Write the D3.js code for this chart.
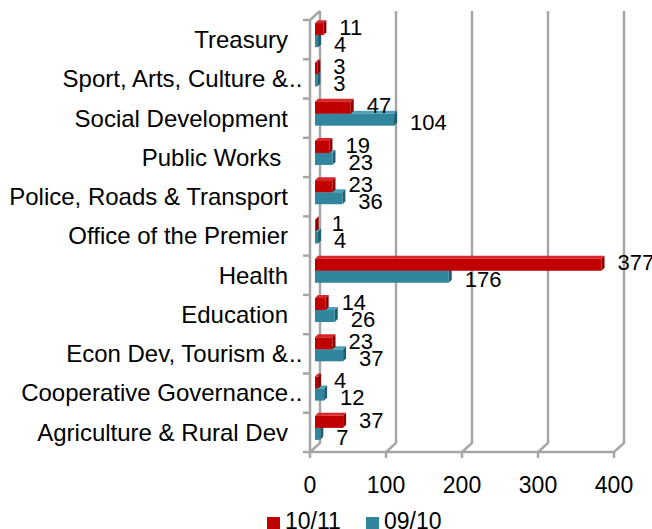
<!DOCTYPE html>
<html>
<head>
<meta charset="utf-8">
<script src="https://cdn.jsdelivr.net/npm/d3@7"></script>
<style>
  body { margin: 0; background: #fff; }
  svg text { font-family: "Liberation Sans", Arial, sans-serif; fill: #000; }
</style>
</head>
<body>
<div class="chart"></div>
<script>
var categories = ["Treasury", "Sport, Arts, Culture &..", "Social Development", "Public Works ",
  "Police, Roads & Transport", "Office of the Premier", "Health", "Education",
  "Econ Dev, Tourism &..", "Cooperative Governance..", "Agriculture & Rural Dev"];
var series = ["10/11", "09/10"];
var values1011 = [11, 3, 47, 19, 23, 1, 377, 14, 23, 4, 37];
var values0910 = [4, 3, 104, 23, 36, 4, 176, 26, 37, 12, 7];
var xTicks = [0, 100, 200, 300, 400];

var width = 652, height = 529;
var depth = {dx: 10, dy: -9};   // back wall offset
var colors = {
  "10/11": {front: "#c00000", top: "#d8262a", side: "#8c0000"},
  "09/10": {front: "#31859c", top: "#4da2b9", side: "#1f5e6f"}
};

var svg = d3.select(".chart").append("svg")
  .attr("width", width)
  .attr("height", height);

var x = d3.scaleLinear().domain([0, 400]).range([310, 614]);
var y = d3.scaleBand().domain(categories).range([20, 452]);
var sub = d3.scaleBand().domain(series).range([-12, 12]);

// grid: back wall lines + floor diagonals
var grid = svg.append("g")
  .attr("fill", "none")
  .attr("stroke", "#a6a6a6")
  .attr("stroke-width", 2.5);

xTicks.forEach(function(t) {
  var xf = x(t), xb = x(t) + depth.dx;
  grid.append("path")
    .attr("d", "M" + xb + "," + (20 + depth.dy) + "L" + xb + "," + (452 + depth.dy) +
      "L" + xf + ",452L" + xf + ",458");
});

// front left axis with top bevel
grid.append("path")
  .attr("d", "M" + (x(0) + depth.dx) + "," + (20 + depth.dy) + "L" + x(0) + ",20L" + x(0) + ",452");
grid.append("path")
  .attr("d", "M303,452L" + x(400) + ",452");
categories.forEach(function(c) {
  grid.append("path").attr("d", "M303," + y(c) + "L" + x(0) + "," + y(c));
});

// bars (blue first so red sits on top)
var mid = {dx: depth.dx / 2, dy: depth.dy / 2};
var bd = 3;
var barData = [];
categories.forEach(function(c, i) {
  barData.push({cat: c, s: "09/10", v: values0910[i]});
  barData.push({cat: c, s: "10/11", v: values1011[i]});
});

var bars = svg.append("g");
barData.forEach(function(d) {
  var x0 = x(0) + mid.dx, x1 = x(d.v) + mid.dx;
  var y0 = y(d.cat) + y.bandwidth() / 2 + mid.dy + sub(d.s);
  var h = sub.bandwidth();
  var col = colors[d.s];
  bars.append("path")
    .attr("fill", col.top)
    .attr("d", "M" + x0 + "," + y0 + "L" + (x0 + bd) + "," + (y0 - bd) +
      "L" + (x1 + bd) + "," + (y0 - bd) + "L" + x1 + "," + y0 + "Z");
  bars.append("path")
    .attr("fill", col.side)
    .attr("d", "M" + x1 + "," + y0 + "L" + (x1 + bd) + "," + (y0 - bd) +
      "L" + (x1 + bd) + "," + (y0 + h - bd) + "L" + x1 + "," + (y0 + h) + "Z");
  bars.append("rect")
    .attr("fill", col.front)
    .attr("x", x0)
    .attr("y", y0)
    .attr("width", Math.max(0, x1 - x0))
    .attr("height", h);
  // value label
  var cy = y0 + h / 2 + (d.s === "10/11" ? -2 : 3);
  bars.append("text")
    .attr("x", x1 + bd + 13)
    .attr("y", cy)
    .attr("dy", "0.35em")
    .style("font-size", "22px")
    .text(d.v);
});

// category labels; a trailing ".." spills past the label edge
var catG = svg.append("g");
categories.forEach(function(c) {
  var cy = y(c) + y.bandwidth() / 2;
  var cut = c.slice(-2) === "..";
  catG.append("text")
    .attr("x", 288)
    .attr("y", cy)
    .attr("dy", "0.35em")
    .attr("text-anchor", "end")
    .attr("xml:space", "preserve")
    .style("white-space", "pre")
    .style("font-size", "24px")
    .text(cut ? c.slice(0, -2) : c);
  if (cut) {
    catG.append("text")
      .attr("x", 289)
      .attr("y", cy)
      .attr("dy", "0.35em")
      .style("font-size", "24px")
      .text("..");
  }
});

// x tick labels
svg.append("g").selectAll("text")
  .data(xTicks)
  .enter().append("text")
  .attr("x", function(d) { return x(d); })
  .attr("y", 493)
  .attr("text-anchor", "middle")
  .style("font-size", "23px")
  .text(function(d) { return d; });

// legend
var legendX = [267, 366];
var legend = svg.append("g");
series.forEach(function(s, i) {
  legend.append("rect")
    .attr("x", legendX[i])
    .attr("y", 517)
    .attr("width", 13)
    .attr("height", 13)
    .attr("fill", colors[s].front);
  legend.append("text")
    .attr("x", legendX[i] + 18)
    .attr("y", 529)
    .style("font-size", "23px")
    .text(s);
});
</script>
</body>
</html>
